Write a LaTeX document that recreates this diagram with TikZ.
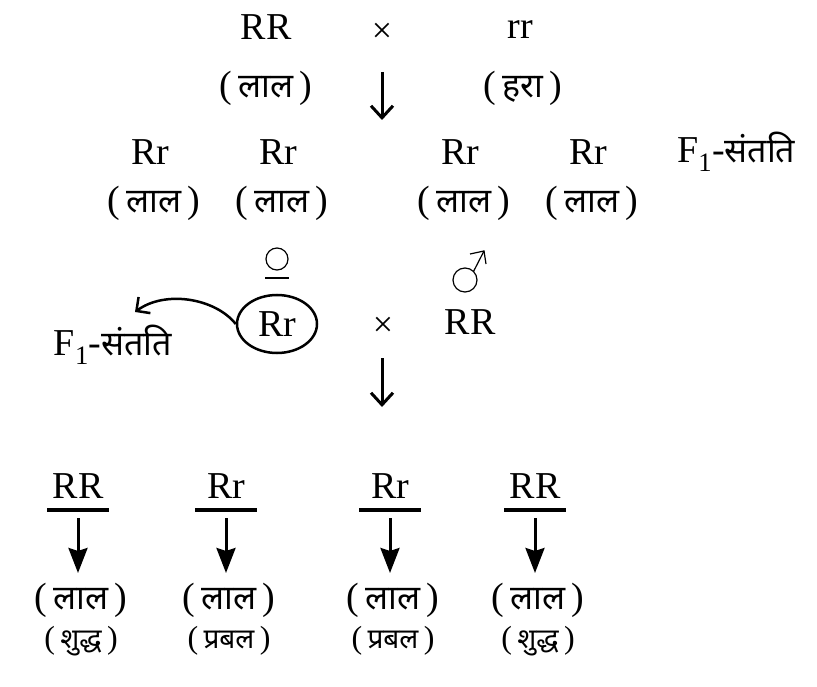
\documentclass[tikz,border=0pt]{standalone}
\usepackage{fontspec}
\setmainfont{Liberation Serif}
\newfontfamily\hindi[Script=Devanagari]{Noto Sans}
\usetikzlibrary{arrows.meta,shapes.geometric}

\begin{document}
\begin{tikzpicture}[x = 1pt, y = -1pt,
    geno/.style = {font = \fontsize{38}{42}\selectfont, inner sep = 0pt},
    pheno/.style = {font = \fontsize{38}{42}\selectfont, inner sep = 0pt},
    purity/.style = {font = \fontsize{32}{36}\selectfont, inner sep = 0pt},
    times/.style = {font = \fontsize{36}{40}\selectfont, inner sep = 0pt},
    down/.style = {line width = 3pt, -{Straight Barb[length = 12pt, width = 22pt]}},
    result/.style = {line width = 3pt, -{Stealth[length = 25pt, width = 19pt, inset = 3pt]}},
    bar/.style = {line width = 4pt},
    sym/.style = {line width = 1.2pt}]
  \useasboundingbox (0,0) rectangle (817,687);
  % parents
  \node [geno] (pRR) at (266,27) {RR};
  \node [times] (x1) at (382,33) {×};
  \node [geno] (prr) at (520,30) {rr};
  \node [pheno] (pRRc) at (266,88) {(\,{\hindi\fontsize{34}{38}\selectfont लाल}\,)};
  \node [pheno] (prrc) at (523,88) {(\,{\hindi\fontsize{34}{38}\selectfont हरा}\,)};
  \coordinate (a1s) at (382,72);
  \coordinate (a1e) at (382,120);
  \draw [down] (a1s) -- (a1e);
  % F1
  \foreach \x [count = \i] in {150,278,460,588} {
    \node [geno] (f\i) at (\x,152) {Rr};
    \node [pheno] (f\i c) at (\x+4,203) {(\,{\hindi\fontsize{34}{38}\selectfont लाल}\,)};
  }
  \node [geno, anchor = west] (f1lab) at (677,152)
    {F\textsubscript{1}-{\hindi\fontsize{34}{38}\selectfont संतति}};
  % female, male
  \draw [sym] (277,259) circle (11);
  \draw [sym] (265,278) -- (289,278);
  \draw [sym] (465,280) circle (12);
  \draw [sym] (473.5,271.5) -- (484,251);
  \draw [sym] (470,254) -- (484,251) -- (486,264);
  % test cross
  \node [geno, draw, line width = 2.5pt, ellipse, minimum width = 80pt,
    minimum height = 58pt] (fem) at (277,324) {Rr};
  \node [times] (x2) at (383,327) {×};
  \node [geno] (male) at (470,322) {RR};
  \node [geno] (f2lab) at (113,345)
    {F\textsubscript{1}-{\hindi\fontsize{34}{38}\selectfont संतति}};
  \coordinate (tip) at (135,312);
  \draw [line width = 2.5pt, -{Straight Barb[length = 10pt, width = 20pt]}]
    (fem.west) .. controls (215,298) and (165,290) .. (tip);
  \coordinate (a2s) at (382,358);
  \coordinate (a2e) at (382,407);
  \draw [down] (a2s) -- (a2e);
  % offspring
  \foreach \x/\g/\p [count = \i] in {78/RR/शुद्ध,226/Rr/प्रबल,390/Rr/प्रबल,535/RR/शुद्ध} {
    \node [geno] (o\i) at (\x,486) {\g};
    \draw [bar] (\x-31,510) -- (\x+31,510);
    \coordinate (o\i s) at (\x,518);
    \coordinate (o\i e) at (\x,573);
    \draw [result] (o\i s) -- (o\i e);
    \node [pheno] (o\i c) at (\x+3,600) {(\,{\hindi\fontsize{34}{38}\selectfont लाल}\,)};
    \node [purity] (o\i p) at (\x+3,641) {(\,{\hindi\fontsize{28}{32}\selectfont \p}\,)};
  }
\end{tikzpicture}
\end{document}
